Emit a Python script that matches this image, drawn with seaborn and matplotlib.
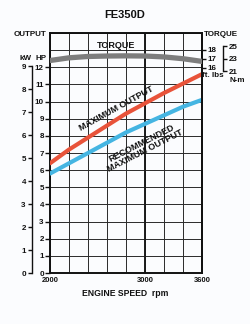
import matplotlib
matplotlib.use("Agg")
import matplotlib.pyplot as plt
import seaborn as sns
import numpy as np
import pandas as pd

rpm = [2000, 2200, 2400, 2600, 2800, 3000, 3200, 3400, 3600]
max_output_hp = [6.4, 7.2, 7.9, 8.6, 9.3, 9.9, 10.5, 11.05, 11.6]
recommended_hp = [5.8, 6.4, 7.0, 7.6, 8.2, 8.7, 9.2, 9.7, 10.1]
torque_ftlbs = [16.8, 17.1, 17.25, 17.3, 17.32, 17.3, 17.2, 17.0, 16.7]

hp_ticks = list(range(0, 13))
kw_ticks = list(range(0, 10))
ftlb_ticks = [16, 17, 18]
nm_ticks = [21, 23, 25]
x_tick_labels = [2000, 3000, 3600]

RED = "#e8533a"
BLUE = "#45b5e2"
GRAY = "#7d7d7d"
INK = "#111111"

df = pd.DataFrame({"rpm": rpm, "max": max_output_hp, "rec": recommended_hp, "torque": torque_ftlbs})

sns.set_theme(style="white")
plt.rcParams["font.family"] = ["Liberation Sans", "DejaVu Sans"]
plt.rcParams["font.weight"] = "bold"

W, H = 250, 324
fig = plt.figure(figsize=(W / 100, H / 100), dpi=100)
bg = "#fbfcfe"
fig.patch.set_facecolor(bg)

L, R, T, B = 50, 202, 33, 273
ax = fig.add_axes([L / W, 1 - B / H, (R - L) / W, (B - T) / H])
ax.set_facecolor(bg)

# HP main axis
ax.set_xlim(2000, 3600)
ax.set_ylim(0, 14)
ax.set_xticks(x_tick_labels)
ax.set_xticklabels([str(v) for v in x_tick_labels], fontsize=5.5, fontweight="bold")
ax.set_xticks(np.arange(2000, 3601, 200), minor=True)
ax.set_yticks(hp_ticks)
ax.set_yticklabels([str(v) for v in hp_ticks], fontsize=5.8, fontweight="bold")
ax.set_yticks(np.arange(0, 15, 1), minor=True)
ax.tick_params(axis="x", which="both", length=0, pad=3, colors=INK)
ax.tick_params(axis="y", which="major", direction="out", length=3.5, width=1.0, pad=1, left=True, colors=INK)
ax.tick_params(axis="y", which="minor", length=0)
ax.grid(which="both", color="#2a2a2a", lw=0.7)
ax.set_axisbelow(True)
ax.axvline(3000, color="#1a1a1a", lw=1.4, zorder=1)
for s in ["left", "right", "top", "bottom"]:
    ax.spines[s].set_visible(True)
    ax.spines[s].set_color(INK)
    ax.spines[s].set_linewidth(1.4)

sns.lineplot(data=df, x="rpm", y="max", ax=ax, color=RED, lw=3.0, zorder=5)
sns.lineplot(data=df, x="rpm", y="rec", ax=ax, color=BLUE, lw=3.0, zorder=5)
ax.set_xlabel("")
ax.set_ylabel("")

# torque axis (ft.lbs) on right
HP_PER_FT = 0.523
FT_AT = 17.0
HP_AT = 12.5
ax_ft = ax.twinx()
ax_ft.set_ylim(FT_AT - HP_AT / HP_PER_FT, FT_AT + (14 - HP_AT) / HP_PER_FT)
sns.lineplot(data=df, x="rpm", y="torque", ax=ax_ft, color=GRAY, lw=3.8, zorder=4)
ax_ft.set_ylabel("")
ax_ft.set_yticks(ftlb_ticks)
ax_ft.set_yticklabels([str(v) for v in ftlb_ticks], fontsize=5.8, fontweight="bold")
ax_ft.tick_params(axis="y", direction="out", length=3, width=1.0, pad=1, right=True, colors=INK)
for s in ["left", "top", "bottom"]:
    ax_ft.spines[s].set_visible(False)
ax_ft.spines["right"].set_color(INK)
ax_ft.spines["right"].set_linewidth(1.4)
ax_ft.grid(False)

# N-m axis bracket
HP_PER_NM = 0.363
NM_AT = 23.0
ax_nm = ax.twinx()
ax_nm.set_ylim(NM_AT - HP_AT / HP_PER_NM, NM_AT + (14 - HP_AT) / HP_PER_NM)
ax_nm.spines["right"].set_position(("axes", (223 - L) / (R - L)))
ax_nm.spines["right"].set_bounds(21, 25)
ax_nm.spines["right"].set_color(INK)
ax_nm.spines["right"].set_linewidth(1.0)
for s in ["left", "top", "bottom"]:
    ax_nm.spines[s].set_visible(False)
ax_nm.set_yticks(nm_ticks)
ax_nm.set_yticklabels([str(v) for v in nm_ticks], fontsize=5.8, fontweight="bold")
ax_nm.tick_params(axis="y", direction="out", length=3, width=1.0, pad=1.5, right=True, colors=INK)
ax_nm.grid(False)

# kW axis on left
HP_PER_KW = 1.341
ax_kw = ax.twinx()
ax_kw.set_ylim(0, 14 / HP_PER_KW)
ax_kw.yaxis.set_ticks_position("left")
ax_kw.yaxis.set_label_position("left")
ax_kw.spines["left"].set_visible(True)
ax_kw.spines["left"].set_position(("axes", (32 - L) / (R - L)))
ax_kw.spines["left"].set_bounds(0, 9)
ax_kw.spines["left"].set_color(INK)
ax_kw.spines["left"].set_linewidth(1.0)
for s in ["right", "top", "bottom"]:
    ax_kw.spines[s].set_visible(False)
ax_kw.set_yticks(kw_ticks)
ax_kw.set_yticklabels([str(v) for v in kw_ticks], fontsize=5.8, fontweight="bold")
ax_kw.tick_params(axis="y", direction="out", length=3, width=1.0, pad=1.5, left=True, right=False, colors=INK)
ax_kw.grid(False)

# curve labels
ax.text(2700, 9.6, "MAXIMUM OUTPUT", rotation=29, rotation_mode="anchor",
        ha="center", va="center", fontsize=6.5, fontweight="bold", color=INK, zorder=6,
        bbox=dict(facecolor=bg, edgecolor="none", pad=0.3, alpha=0.0))
ax.text(2980, 7.35, "RECOMMENDED\nMAXIMUM OUTPUT", rotation=27, rotation_mode="anchor",
        ha="center", va="center", fontsize=6.5, fontweight="bold", color=INK,
        linespacing=1.0, zorder=6)
ax.text(2695, 13.27, "TORQUE", ha="center", va="center", fontsize=6.5,
        fontweight="bold", color=INK, zorder=6)

def ft(x, y):
    return x / W, 1 - y / H

fig.text(*ft(125, 14.5), "FE350D", ha="center", va="center", fontsize=8, fontweight="bold", color=INK)
fig.text(*ft(30, 34.5), "OUTPUT", ha="center", va="center", fontsize=5.8, fontweight="bold", color=INK)
fig.text(*ft(25.5, 58), "kW", ha="center", va="center", fontsize=5.8, fontweight="bold", color=INK)
fig.text(*ft(41, 58), "HP", ha="center", va="center", fontsize=5.8, fontweight="bold", color=INK)
fig.text(*ft(220.5, 34), "TORQUE", ha="center", va="center", fontsize=5.8, fontweight="bold", color=INK)
fig.text(*ft(213, 75.5), "ft. lbs", ha="center", va="center", fontsize=5.8, fontweight="bold", color=INK)
fig.text(*ft(237, 81), "N-m", ha="center", va="center", fontsize=5.8, fontweight="bold", color=INK)
fig.text(*ft(125, 294), "ENGINE SPEED  rpm", ha="center", va="center", fontsize=6.2, fontweight="bold", color=INK)

fig.savefig("out.png", dpi=100, facecolor=fig.get_facecolor())
